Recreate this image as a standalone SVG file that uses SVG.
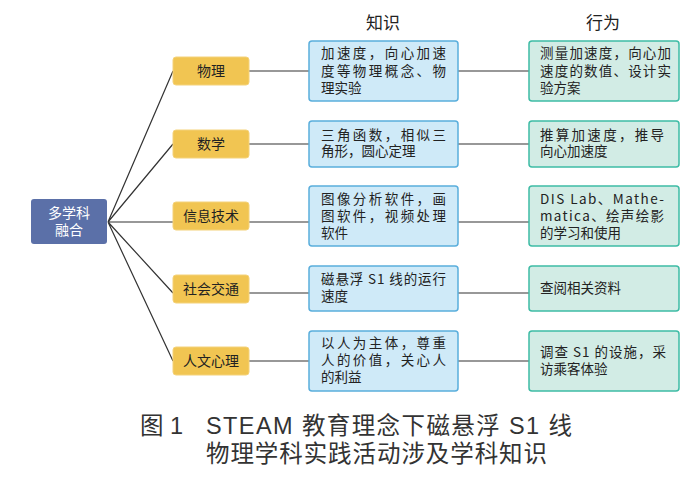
<svg xmlns="http://www.w3.org/2000/svg" width="700" height="479" viewBox="0 0 700 479">
<style>
text{font-family:"Noto Sans CJK SC","Noto Sans",sans-serif;}
.c{fill:#5b70a8;}
.y{fill:#f1c552;stroke:#f4d27a;stroke-width:1;}
.b{fill:#cfeaf8;stroke:#5aaedc;stroke-width:1.5;}
.g{fill:#d2ece5;stroke:#3ebca5;stroke-width:1.5;}
.t{font-size:13.5px;fill:#222;}
.yt{font-size:14px;fill:#222;text-anchor:middle;}
.h{font-size:17px;fill:#222;text-anchor:middle;}
.cap{font-size:23.5px;fill:#333;font-family:"Liberation Sans","Noto Sans CJK SC",sans-serif;}
.ln{stroke:#333;stroke-width:1.2;fill:none;}
</style>
<g id="connectors">
<path class="ln" d="M108 222 L173 71 M108 222 L173 144 M108 222 L173 222 M108 222 L173 293 M108 222 L173 361"/>
<path class="ln" d="M249 71 H309 M249 144 H309 M249 222 H309 M249 293 H309 M249 361 H309"/>
<path class="ln" d="M458 71 H529 M458 144 H529 M458 222 H529 M458 293 H529 M458 361 H529"/>
</g>
<text class="h" x="383" y="29">知识</text>
<text class="h" x="603" y="29">行为</text>
<g id="center">
<rect class="c" x="31" y="199" width="76" height="45" rx="3"/>
<text x="69" y="218" font-size="14" fill="#fff" text-anchor="middle">多学科</text>
<text x="69" y="235" font-size="14" fill="#fff" text-anchor="middle">融合</text>
</g>
<g id="wuli"><rect class="y" x="173" y="57" width="76" height="28" rx="3"/><text class="yt" x="211" y="76">物理</text></g>
<g id="shuxue"><rect class="y" x="173" y="130" width="76" height="28" rx="3"/><text class="yt" x="211" y="149">数学</text></g>
<g id="xinxi"><rect class="y" x="173" y="202" width="76" height="28" rx="3"/><text class="yt" x="211" y="221">信息技术</text></g>
<g id="shehui"><rect class="y" x="173" y="275" width="76" height="28" rx="3"/><text class="yt" x="211" y="294">社会交通</text></g>
<g id="renwen"><rect class="y" x="173" y="347" width="76" height="28" rx="3"/><text class="yt" x="211" y="366">人文心理</text></g>

<g id="k1"><rect class="b" x="309" y="41" width="149" height="60" rx="3"/>
<text class="t" x="321" y="58" textLength="125" lengthAdjust="spacing">加速度，向心加速</text>
<text class="t" x="321" y="76" textLength="125" lengthAdjust="spacing">度等物理概念、物</text>
<text class="t" x="321" y="93">理实验</text></g>
<g id="k2"><rect class="b" x="309" y="121" width="149" height="46" rx="3"/>
<text class="t" x="321" y="140" textLength="125" lengthAdjust="spacing">三角函数，相似三</text>
<text class="t" x="321" y="156">角形，圆心定理</text></g>
<g id="k3"><rect class="b" x="309" y="186" width="149" height="60" rx="3"/>
<text class="t" x="321" y="204" textLength="125" lengthAdjust="spacing">图像分析软件，画</text>
<text class="t" x="321" y="221" textLength="125" lengthAdjust="spacing">图软件，视频处理</text>
<text class="t" x="321" y="238">软件</text></g>
<g id="k4"><rect class="b" x="309" y="266" width="149" height="45" rx="3"/>
<text class="t" x="321" y="284" textLength="125" lengthAdjust="spacing">磁悬浮 S1 线的运行</text>
<text class="t" x="321" y="301">速度</text></g>
<g id="k5"><rect class="b" x="309" y="331" width="149" height="60" rx="3"/>
<text class="t" x="321" y="348" textLength="125" lengthAdjust="spacing">以人为主体，尊重</text>
<text class="t" x="321" y="365" textLength="125" lengthAdjust="spacing">人的价值，关心人</text>
<text class="t" x="321" y="382">的利益</text></g>

<g id="a1"><rect class="g" x="529" y="41" width="150" height="60" rx="3"/>
<text class="t" x="540" y="58" textLength="131" lengthAdjust="spacing">测量加速度，向心加</text>
<text class="t" x="540" y="76" textLength="131" lengthAdjust="spacing">速度的数值、设计实</text>
<text class="t" x="540" y="93">验方案</text></g>
<g id="a2"><rect class="g" x="529" y="121" width="150" height="46" rx="3"/>
<text class="t" x="540" y="140" textLength="124" lengthAdjust="spacing">推算加速度，推导</text>
<text class="t" x="540" y="156">向心加速度</text></g>
<g id="a3"><rect class="g" x="529" y="186" width="150" height="60" rx="3"/>
<text class="t" x="540" y="204" textLength="124" lengthAdjust="spacing">DIS Lab、Mathe-</text>
<text class="t" x="540" y="221" textLength="124" lengthAdjust="spacing">matica、绘声绘影</text>
<text class="t" x="540" y="238">的学习和使用</text></g>
<g id="a4"><rect class="g" x="529" y="266" width="150" height="45" rx="3"/>
<text class="t" x="540" y="293">查阅相关资料</text></g>
<g id="a5"><rect class="g" x="529" y="331" width="150" height="60" rx="3"/>
<text class="t" x="540" y="357" textLength="126" lengthAdjust="spacing">调查 S1 的设施，采</text>
<text class="t" x="540" y="374">访乘客体验</text></g>

<text class="cap" x="140" y="434">图 1</text>
<text class="cap" x="206" y="434" textLength="366" lengthAdjust="spacing">STEAM 教育理念下磁悬浮 S1 线</text>
<text class="cap" x="206" y="462" textLength="341" lengthAdjust="spacing">物理学科实践活动涉及学科知识</text>
</svg>
